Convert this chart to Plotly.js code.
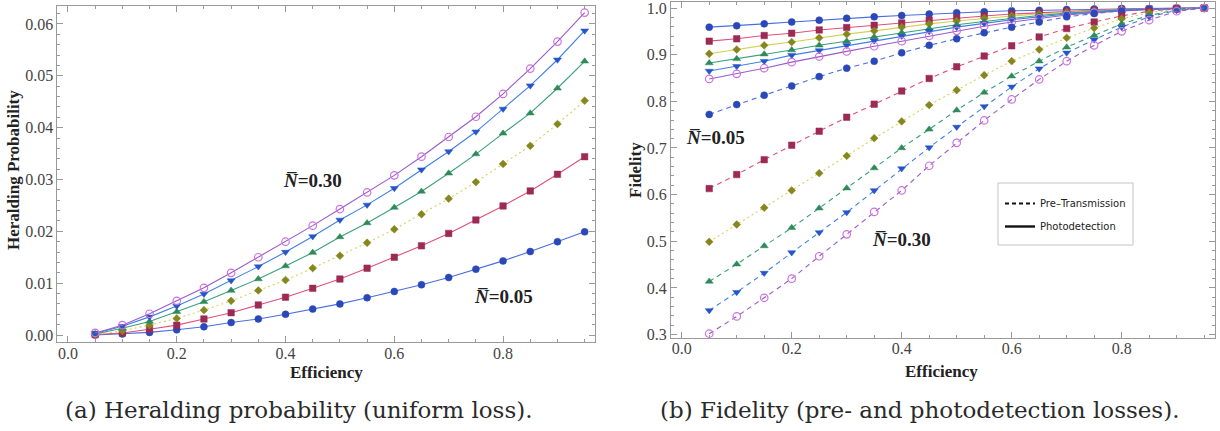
<!DOCTYPE html>
<html>
<head>
<meta charset="utf-8">
<script src="https://cdn.plot.ly/plotly-3.0.1.min.js"></script>
<style>html,body{margin:0;padding:0;background:#fff;}#chart{width:1220px;height:431px;}</style>
</head>
<body>
<div id="chart"></div>
<script>
// Efficiency values (x)
const efficiency = [0.05,0.10,0.15,0.20,0.25,0.30,0.35,0.40,0.45,0.50,0.55,0.60,0.65,0.70,0.75,0.80,0.85,0.90,0.95];
const nbarLabels = ["N̄=0.05","N̄=0.10","N̄=0.15","N̄=0.20","N̄=0.25","N̄=0.30"];

// (a) Heralding probability (uniform loss)
const herald_N005 = [0.0000,0.0002,0.0005,0.0010,0.0016,0.0024,0.0031,0.0040,0.0050,0.0060,0.0072,0.0084,0.0097,0.0111,0.0127,0.0143,0.0161,0.0180,0.0199];
const herald_N010 = [0.0001,0.0004,0.0011,0.0019,0.0031,0.0043,0.0058,0.0073,0.0090,0.0108,0.0129,0.0150,0.0172,0.0196,0.0222,0.0249,0.0278,0.0310,0.0344];
const herald_N015 = [0.0001,0.0008,0.0019,0.0032,0.0048,0.0066,0.0086,0.0106,0.0129,0.0153,0.0178,0.0204,0.0233,0.0263,0.0295,0.0330,0.0365,0.0407,0.0452];
const herald_N020 = [0.0002,0.0013,0.0026,0.0045,0.0064,0.0086,0.0108,0.0133,0.0159,0.0189,0.0216,0.0246,0.0277,0.0312,0.0349,0.0389,0.0428,0.0476,0.0528];
const herald_N025 = [0.0003,0.0017,0.0035,0.0056,0.0079,0.0105,0.0132,0.0160,0.0190,0.0222,0.0251,0.0283,0.0319,0.0354,0.0392,0.0436,0.0481,0.0531,0.0587];
const herald_N030 = [0.0004,0.0019,0.0041,0.0066,0.0091,0.0120,0.0150,0.0180,0.0211,0.0243,0.0275,0.0308,0.0344,0.0382,0.0421,0.0465,0.0514,0.0566,0.0622];

// (b) Fidelity, pre-transmission loss (dashed)
const pre_N005 = [0.772,0.793,0.813,0.833,0.853,0.871,0.886,0.904,0.920,0.934,0.947,0.959,0.970,0.981,0.988,0.994,0.998,0.999,1.000];
const pre_N010 = [0.613,0.643,0.675,0.706,0.736,0.766,0.794,0.822,0.849,0.874,0.897,0.919,0.938,0.956,0.970,0.983,0.993,0.998,1.000];
const pre_N015 = [0.499,0.536,0.572,0.609,0.646,0.683,0.721,0.757,0.792,0.824,0.856,0.886,0.911,0.936,0.957,0.977,0.990,0.997,1.000];
const pre_N020 = [0.414,0.451,0.490,0.529,0.571,0.614,0.657,0.700,0.740,0.781,0.819,0.854,0.886,0.916,0.941,0.966,0.984,0.996,1.000];
const pre_N025 = [0.352,0.391,0.432,0.476,0.519,0.562,0.609,0.656,0.701,0.745,0.789,0.831,0.870,0.904,0.932,0.959,0.981,0.995,1.000];
const pre_N030 = [0.302,0.339,0.379,0.420,0.468,0.515,0.563,0.609,0.662,0.711,0.759,0.804,0.847,0.886,0.920,0.950,0.974,0.993,1.000];

// (b) Fidelity, photodetection loss (solid)
const pd_N005 = [0.959,0.962,0.966,0.970,0.974,0.978,0.981,0.984,0.987,0.990,0.992,0.994,0.995,0.997,0.998,0.999,0.999,1.000,1.000];
const pd_N010 = [0.929,0.934,0.941,0.946,0.953,0.958,0.963,0.968,0.974,0.979,0.983,0.987,0.990,0.993,0.995,0.997,0.998,0.999,1.000];
const pd_N015 = [0.902,0.911,0.920,0.927,0.936,0.944,0.951,0.959,0.966,0.972,0.978,0.983,0.987,0.991,0.994,0.996,0.998,0.999,1.000];
const pd_N020 = [0.882,0.891,0.901,0.910,0.920,0.929,0.938,0.947,0.956,0.964,0.971,0.978,0.984,0.989,0.993,0.996,0.998,0.999,1.000];
const pd_N025 = [0.865,0.875,0.886,0.899,0.909,0.920,0.930,0.940,0.950,0.959,0.967,0.975,0.981,0.987,0.991,0.995,0.997,0.999,1.000];
const pd_N030 = [0.848,0.859,0.871,0.884,0.896,0.907,0.918,0.929,0.940,0.951,0.961,0.970,0.978,0.985,0.990,0.994,0.997,0.999,1.000];

// Tick labels
const xTickVals = [0.0,0.2,0.4,0.6,0.8];
const xTickText = ["0.0","0.2","0.4","0.6","0.8"];
const yTickValsA = [0.00,0.01,0.02,0.03,0.04,0.05,0.06];
const yTickTextA = ["0.00","0.01","0.02","0.03","0.04","0.05","0.06"];
const yTickValsB = [0.3,0.4,0.5,0.6,0.7,0.8,0.9,1.0];
const yTickTextB = ["0.3","0.4","0.5","0.6","0.7","0.8","0.9","1.0"];

// Styles per N̄ series
const styles = [
  {line:'#4a6ee0', marker:'#2a48b8', symbol:'circle', size:7, dotted:false},
  {line:'#e0507a', marker:'#9c2a55', symbol:'square', size:6.5, dotted:false},
  {line:'#d2d25a', marker:'#86861c', symbol:'diamond', size:6, dotted:true},
  {line:'#3aa07a', marker:'#2f8a5a', symbol:'triangle-up', size:7, dotted:false},
  {line:'#3f80e8', marker:'#2555c8', symbol:'triangle-down', size:7, dotted:false},
  {line:'#9a5ac8', marker:'#d070e0', symbol:'circle-open', size:7.5, dotted:false}
];

const heraldSeries = [herald_N005,herald_N010,herald_N015,herald_N020,herald_N025,herald_N030];
const preSeries = [pre_N005,pre_N010,pre_N015,pre_N020,pre_N025,pre_N030];
const pdSeries = [pd_N005,pd_N010,pd_N015,pd_N020,pd_N025,pd_N030];

const traces = [];
function mk(y, s, name, xa, ya, dash){
  return {x: efficiency, y: y, name: name, xaxis: xa, yaxis: ya, type:'scatter', mode:'lines+markers',
    showlegend:false,
    line:{color:s.line, width:1.1, dash:dash},
    marker:{symbol:s.symbol, size:s.size, color:s.marker, line:{color:s.marker, width: s.symbol==='circle-open'?1.2:0.5}}};
}
heraldSeries.forEach((y,i)=>{
  traces.push(mk(y, styles[i], nbarLabels[i], 'x', 'y', styles[i].dotted ? '2px,3px' : 'solid'));
});
pdSeries.forEach((y,i)=>{
  traces.push(mk(y, styles[i], nbarLabels[i]+' photodetection', 'x2', 'y2', 'solid'));
});
preSeries.forEach((y,i)=>{
  traces.push(mk(y, styles[i], nbarLabels[i]+' pre-transmission', 'x2', 'y2', styles[i].dotted ? '2px,3px' : '5px,4px'));
});
// legend entries
traces.push({x:[null], y:[null], xaxis:'x2', yaxis:'y2', type:'scatter', mode:'lines', name:'Pre\u2013Transmission',
  legendgroup:'g1', line:{color:'#111', width:2, dash:'4px,3px'}, showlegend:true});
traces.push({x:[null], y:[null], xaxis:'x2', yaxis:'y2', type:'scatter', mode:'lines', name:'Photodetection',
  legendgroup:'g2', line:{color:'#111', width:2.4, dash:'solid'}, showlegend:true});

const tickFont = {family:'"Liberation Serif", "Times New Roman", serif', size:16, color:'#444'};
const axisCommon = {
  showline:true, linecolor:'#9a9a9a', linewidth:1, mirror:'allticks',
  ticks:'inside', ticklen:6, tickcolor:'#9a9a9a', tickwidth:1,
  showgrid:false, zeroline:false, tickfont:tickFont, fixedrange:true,
  ticklabeloverflow:'allow'
};

const serifBold = {family:'"Liberation Serif", serif', size:17, color:'#222'};
const nbarFont = {family:'"Liberation Serif", serif', size:19, color:'#222'};
const capFont = {family:'"DejaVu Serif", serif', size:23, color:'#2a2a2a'};
function ann(text, px, py, font, angle){
  return {text:text, xref:'paper', yref:'paper', x:px/1220, y:1-py/431, xanchor:'center', yanchor:'middle',
    textangle: angle||0, showarrow:false, font:font};
}

const layout = {
  width:1220, height:431,
  margin:{l:0,r:0,t:0,b:0},
  paper_bgcolor:'#fff', plot_bgcolor:'#fff',
  showlegend:true,
  legend:{x:1000/1220, y:1-189/431, xanchor:'left', yanchor:'top',
    bgcolor:'rgba(0,0,0,0)', borderwidth:0,
    font:{family:'"DejaVu Sans", sans-serif', size:10, color:'#222'},
    itemwidth:30, traceorder:'grouped', tracegroupgap:4},
  shapes:[
    {type:'rect', xref:'paper', yref:'paper', x0:998/1220, x1:1133/1220, y0:1-245/431, y1:1-183/431,
     line:{color:'#c4c4c4', width:1}, fillcolor:'rgba(255,255,255,0)', layer:'below'}
  ],
  xaxis: Object.assign({}, axisCommon, {domain:[0.0471,0.4877], range:[-0.0193,0.969],
    tickvals:xTickVals, ticktext:xTickText, ticklabelstandoff:-3,
    minor:{dtick:0.05, tick0:0, ticks:'inside', ticklen:3, tickcolor:'#9a9a9a'}}),
  yaxis: Object.assign({}, axisCommon, {domain:[0.2072,0.9861], range:[-0.00129,0.06347],
    tickvals:yTickValsA, ticktext:yTickTextA,
    minor:{dtick:0.002, tick0:0, ticks:'inside', ticklen:3, tickcolor:'#9a9a9a'}}),
  xaxis2: Object.assign({}, axisCommon, {anchor:'y2', domain:[0.55,0.9959], range:[-0.0195,0.9697],
    tickvals:xTickVals, ticktext:xTickText, ticklabelstandoff:-4,
    minor:{dtick:0.05, tick0:0, ticks:'inside', ticklen:3, tickcolor:'#9a9a9a'}}),
  yaxis2: Object.assign({}, axisCommon, {anchor:'x2', domain:[0.2165,0.9954], range:[0.2935,1.0129],
    tickvals:yTickValsB, ticktext:yTickTextB,
    minor:{dtick:0.02, tick0:0, ticks:'inside', ticklen:3, tickcolor:'#9a9a9a'}}),
  annotations:[
    ann('<b>Heralding Probability</b>', 13, 170, serifBold, -90),
    ann('<b>Efficiency</b>', 326, 372, serifBold),
    ann('<b>Fidelity</b>', 635, 170, serifBold, -90),
    ann('<b>Efficiency</b>', 942, 371, serifBold),
    ann('<b><i>N\u0305</i>=0.30</b>', 312, 180, nbarFont),
    ann('<b><i>N\u0305</i>=0.05</b>', 503, 296, nbarFont),
    ann('<b><i>N\u0305</i>=0.05</b>', 715, 137, nbarFont),
    ann('<b><i>N\u0305</i>=0.30</b>', 901, 239, nbarFont),
    ann('(a) Heralding probability (uniform loss).', 299, 410, capFont),
    ann('(b) Fidelity (pre- and photodetection losses).', 920, 410, capFont)
  ]
};

Plotly.newPlot('chart', traces, layout, {staticPlot:true, displayModeBar:false});
</script>
</body>
</html>
